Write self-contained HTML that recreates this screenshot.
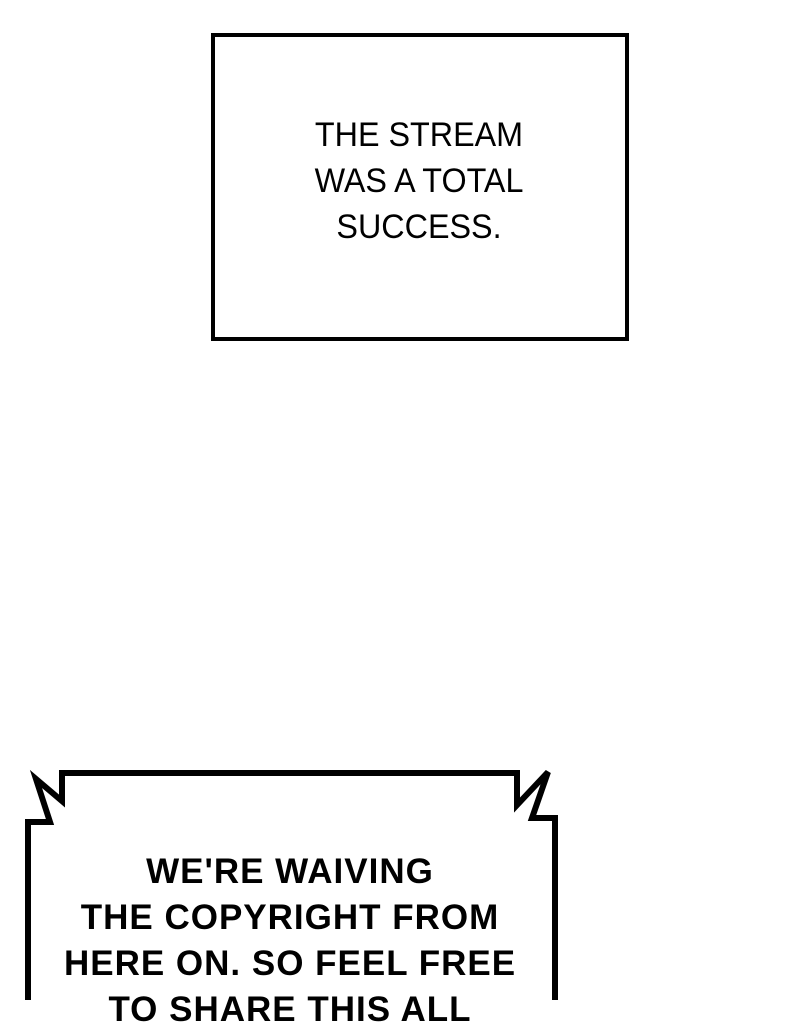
<!DOCTYPE html>
<html><head><style>
html,body{margin:0;padding:0;background:#fff;}
body{width:800px;height:1000px;position:relative;overflow:hidden;}
.box{position:absolute;left:211px;top:33px;width:410px;height:300px;border:4px solid #000;}
.t1{position:absolute;left:219px;width:400px;top:112px;text-align:center;font-family:"Liberation Sans",sans-serif;font-size:34px;line-height:46px;color:#000;transform:scaleX(0.95);}
.t2{position:absolute;left:40px;width:500px;top:849px;text-align:center;font-family:"Liberation Sans",sans-serif;font-weight:bold;font-size:35px;line-height:46px;color:#000;letter-spacing:1px;}
svg{position:absolute;left:0;top:0;}
</style></head><body>
<div class="box"></div>
<div class="t1">THE STREAM<br>WAS A TOTAL<br>SUCCESS.</div>
<svg width="800" height="1000"><path d="M28,1004 V822 H50 L36,779 L62,801 V773 H517 V805 L548,772 L532,818 H555 V1004" fill="none" stroke="#000" stroke-width="6" stroke-linejoin="miter"/></svg>
<div class="t2">WE'RE WAIVING<br>THE COPYRIGHT FROM<br>HERE ON. SO FEEL FREE<br>TO SHARE THIS ALL</div>
</body></html>
